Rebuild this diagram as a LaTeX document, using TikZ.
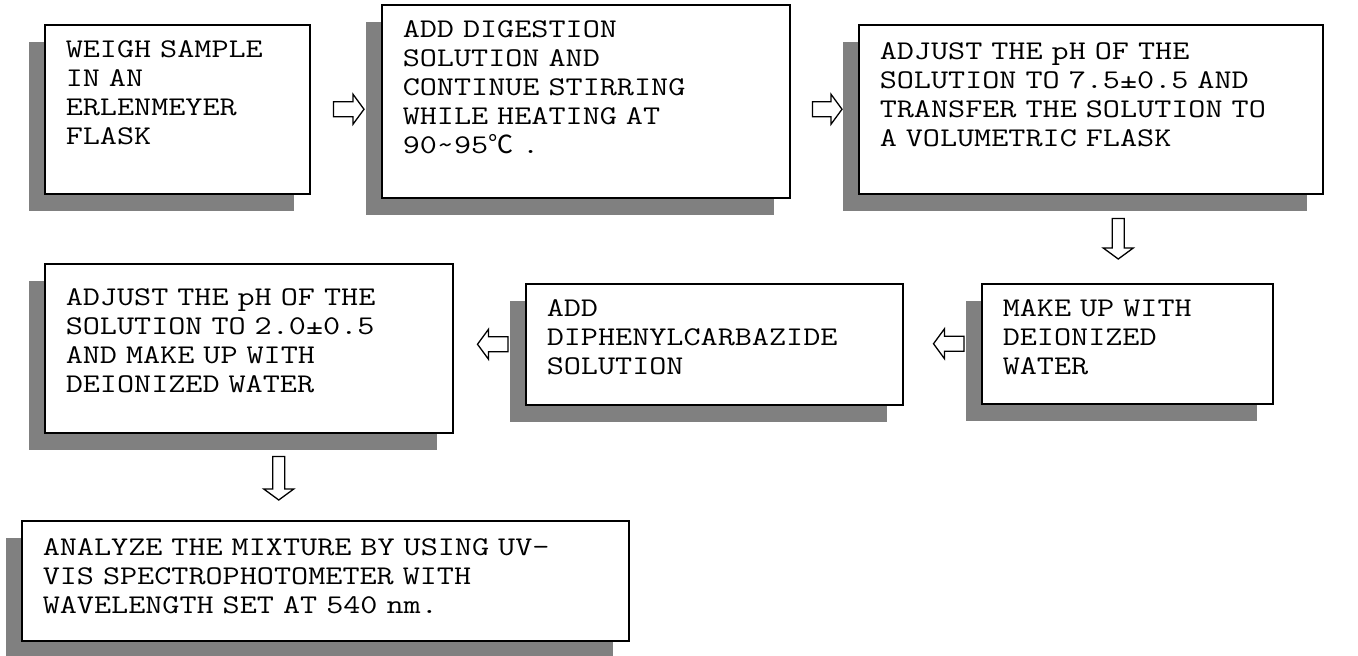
\documentclass[tikz,border=0pt]{standalone}
\usepackage{fontspec}
\newfontfamily\monofont[FakeStretch=1.23]{Latin Modern Mono}
\newfontfamily\cjk{Noto Sans CJK SC}
\usetikzlibrary{calc, shadows}
\DeclareRobustCommand\stepfont{\monofont\fontsize{27}{29}\selectfont
    \spaceskip=17.43pt\relax\xspaceskip=17.43pt\relax}

\begin{document}
\begin{tikzpicture}[
    x=1pt, y=-1pt,
    stepbox/.style={draw=black, line width=1.5pt, fill=white, anchor=north west,
        font=\stepfont, align=left, inner xsep=21pt, inner ysep=0pt,
        drop shadow={shadow xshift=-16pt, shadow yshift=-17pt, fill=black!50, opacity=1}},
    blockarr/.style n args={3}{draw=black, line width=1.3pt, fill=white, line join=miter,
        to path={let \p1=($(\tikztostart)!#1!(\tikztotarget)$),
                     \p2=($(\tikztotarget)!#2!(\tikztostart)$),
                     \p3=($(\p2)!11pt!(\p1)$) in
            ($(\p1)!#3!90:(\p2)$) -- ($(\p3)!#3!-90:(\p1)$) -- ($(\p3)!15pt!-90:(\p1)$) -- (\p2)
            -- ($(\p3)!15pt!90:(\p1)$) -- ($(\p3)!#3!90:(\p1)$) -- ($(\p1)!#3!-90:(\p2)$) -- cycle}},
]
\useasboundingbox (0,0) rectangle (1358,656);

% ── Top row ──
\node[stepbox, text width=223pt, text height=33pt, text depth=136pt] (box1) at (44,24)
    {WEIGH SAMPLE\\IN AN\\ERLENMEYER\\FLASK};
\node[stepbox, text width=366pt, text height=33pt, text depth=160pt] (box2) at (381,4)
    {ADD DIGESTION\\SOLUTION AND\\CONTINUE STIRRING\\WHILE HEATING AT\\90\textasciitilde 95{\cjk\fontsize{25}{29}\selectfont ℃} .};
\node[stepbox, text width=422pt, text height=35pt, text depth=134pt] (box3) at (858,24)
    {ADJUST THE pH OF THE\\SOLUTION TO 7.5±0.5 AND\\TRANSFER THE SOLUTION TO\\A VOLUMETRIC FLASK};

% ── Middle row ──
\node[stepbox, text width=366pt, text height=42pt, text depth=127pt] (box4) at (44,263)
    {ADJUST THE pH OF THE\\SOLUTION TO 2.0±0.5\\AND MAKE UP WITH\\DEIONIZED WATER};
\node[stepbox, text width=335pt, text height=33pt, text depth=88pt] (box5) at (525,283)
    {ADD\\DIPHENYLCARBAZIDE\\SOLUTION};
\node[stepbox, text width=249pt, text height=33pt, text depth=87pt] (box6) at (981,283)
    {MAKE UP WITH\\DEIONIZED\\WATER};

% ── Bottom row ──
\node[stepbox, text width=565pt, text height=35pt, text depth=85pt] (box7) at (21,520)
    {ANALYZE THE MIXTURE BY USING UV-\\VIS SPECTROPHOTOMETER WITH\\WAVELENGTH SET AT 540 nm.};

% ── Arrows ──
\coordinate (d1) at ([xshift=-9pt]box6.north);
\coordinate (d2) at ([xshift=30pt]box4.south);
\draw[blockarr={23pt}{17pt}{7.5pt}] (box1.east) to (box1.east -| box2.west);
\draw[blockarr={22pt}{16pt}{7.5pt}] (box3.west -| box2.east) to (box3.west);
\draw[blockarr={24pt}{24pt}{6pt}] (d1 |- box3.south) to (d1);
\draw[blockarr={17pt}{30pt}{7.5pt}] (box6.west) to (box6.west -| box5.east);
\draw[blockarr={17pt}{24pt}{7.5pt}] (box5.west) to (box5.west -| box4.east);
\draw[blockarr={23pt}{20pt}{6pt}] (d2) to (d2 |- box7.north);

\end{tikzpicture}
\end{document}
